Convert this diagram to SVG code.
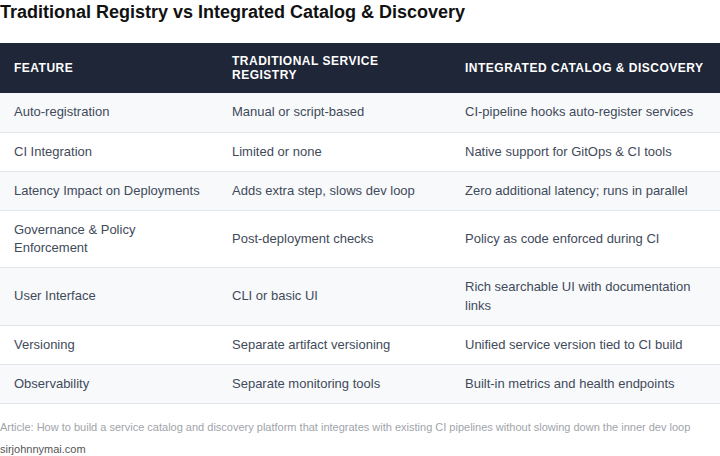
<svg xmlns="http://www.w3.org/2000/svg" width="720" height="456" viewBox="0 0 720 456">
<style>
text{font-family:"Liberation Sans",Arial,sans-serif}
.t{font-size:18px;font-weight:bold;fill:#111}
.h{font-size:12px;font-weight:bold;fill:#fff;letter-spacing:0.5px}
.c{font-size:13px;fill:#3f4a5a}
.alt{fill:#f8f9fb}
.wh{fill:#fff}
.ln{stroke:#e2e6ea;stroke-width:1}
</style>
<rect width="720" height="456" fill="#fff"/>
<text class="t" x="0" y="18">Traditional Registry vs Integrated Catalog &amp; Discovery</text>
<g id="header">
<rect x="0" y="43" width="720" height="50" fill="#1e2638"/>
<text class="h" x="14" y="72">FEATURE</text>
<text class="h" x="232" y="65">TRADITIONAL SERVICE</text>
<text class="h" x="232" y="79">REGISTRY</text>
<text class="h" x="465" y="72">INTEGRATED CATALOG &amp; DISCOVERY</text>
</g>
<g id="rows">
<rect class="alt" x="0" y="93" width="720" height="39"/>
<rect class="wh" x="0" y="132" width="720" height="39"/>
<rect class="alt" x="0" y="171" width="720" height="39"/>
<rect class="wh" x="0" y="210" width="720" height="57"/>
<rect class="alt" x="0" y="267" width="720" height="58"/>
<rect class="wh" x="0" y="325" width="720" height="39"/>
<rect class="alt" x="0" y="364" width="720" height="39"/>
<line class="ln" x1="0" y1="132.5" x2="720" y2="132.5"/>
<line class="ln" x1="0" y1="171.5" x2="720" y2="171.5"/>
<line class="ln" x1="0" y1="210.5" x2="720" y2="210.5"/>
<line class="ln" x1="0" y1="267.5" x2="720" y2="267.5"/>
<line class="ln" x1="0" y1="325.5" x2="720" y2="325.5"/>
<line class="ln" x1="0" y1="364.5" x2="720" y2="364.5"/>
<line class="ln" x1="0" y1="403.5" x2="720" y2="403.5"/>
<text class="c" x="14" y="116">Auto-registration</text>
<text class="c" x="232" y="116">Manual or script-based</text>
<text class="c" x="465" y="116">CI-pipeline hooks auto-register services</text>
<text class="c" x="14" y="156">CI Integration</text>
<text class="c" x="232" y="156">Limited or none</text>
<text class="c" x="465" y="156">Native support for GitOps &amp; CI tools</text>
<text class="c" x="14" y="195">Latency Impact on Deployments</text>
<text class="c" x="232" y="195">Adds extra step, slows dev loop</text>
<text class="c" x="465" y="195">Zero additional latency; runs in parallel</text>
<text class="c" x="14" y="234">Governance &amp; Policy</text>
<text class="c" x="14" y="252">Enforcement</text>
<text class="c" x="232" y="243">Post-deployment checks</text>
<text class="c" x="465" y="243">Policy as code enforced during CI</text>
<text class="c" x="14" y="300">User Interface</text>
<text class="c" x="232" y="300">CLI or basic UI</text>
<text class="c" x="465" y="291">Rich searchable UI with documentation</text>
<text class="c" x="465" y="310">links</text>
<text class="c" x="14" y="349">Versioning</text>
<text class="c" x="232" y="349">Separate artifact versioning</text>
<text class="c" x="465" y="349">Unified service version tied to CI build</text>
<text class="c" x="14" y="388">Observability</text>
<text class="c" x="232" y="388">Separate monitoring tools</text>
<text class="c" x="465" y="388">Built-in metrics and health endpoints</text>
</g>
<text x="0" y="431" font-size="11" fill="#a0a4aa">Article: How to build a service catalog and discovery platform that integrates with existing CI pipelines without slowing down the inner dev loop</text>
<text x="0" y="453" font-size="11" fill="#555">sirjohnnymai.com</text>
</svg>
